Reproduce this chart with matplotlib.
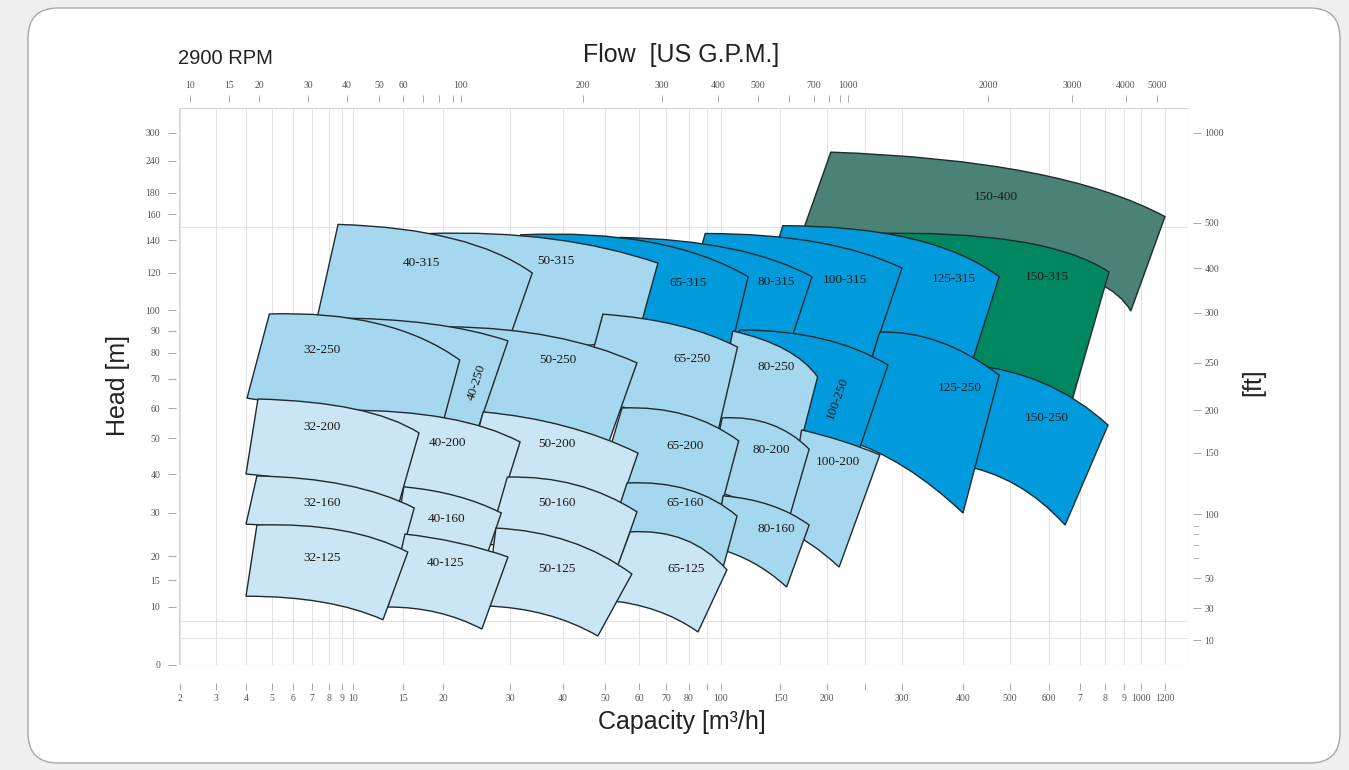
import numpy as np
import matplotlib.pyplot as plt
from matplotlib.path import Path
from matplotlib.patches import PathPatch, Rectangle, FancyBboxPatch

# pump fields, listed back to front (upper right first)
pumps = ['150-400', '150-315', '125-315', '100-315', '80-315', '65-315', '50-315', '40-315',
         '150-250', '125-250', '100-250', '80-250', '65-250', '50-250', '40-250', '32-250',
         '100-200', '80-200', '65-200', '50-200', '40-200', '32-200',
         '80-160', '65-160', '50-160', '40-160', '32-160',
         '65-125', '50-125', '40-125', '32-125']

# field outline, (capacity m3/h, head m): corners and curve control points
top_left = [(205, 259), (257, 145), (153, 151), (89, 145), (54.4, 142), (32, 144), (18.4, 145), (8.7, 152),
            (415, 75.4), (270, 89.5), (116, 90.5), (110, 90), (49.5, 98), (21, 92), (8.1, 96.2), (4.9, 98.1),
            (173, 52.7), (101, 56.7), (55, 60), (26, 58.7), (9.3, 59.3), (4.46, 63.1),
            (101.7, 34.4), (56.5, 37.7), (29.6, 39.2), (15.1, 36.7), (4.42, 39.5),
            (57.4, 25.6), (27.9, 26.5), (15.25, 25.1), (4.42, 27.2)]
top_ctrl = [(635, 242), (590, 148), (346, 151), (204, 145), (120, 140), (69.6, 149), (39.4, 148), (24, 149),
            (603, 72.7), (362, 90.5), (204, 90.5), (166, 83.6), (78.3, 95.2), (39.4, 91.4), (19.6, 96.2), (13.7, 100),
            (224, 49.4), (146, 57.7), (80.6, 61), (41.7, 56), (22.5, 59.3), (11.7, 62.1),
            (146, 33.3), (83.3, 38.5), (44, 39.7), (22.5, 35.4), (10.2, 39),
            (80.6, 26.5), (42.9, 25.6), (22.5, 23.7), (9.73, 27.9)]
top_right = [(1200, 158), (821, 120.6), (477, 118), (300, 123), (184, 118), (123, 118), (67, 126), (34.2, 120),
             (816, 54.3), (477, 71.5), (281, 75.4), (190, 70.8), (114, 82.7), (59.4, 76.2), (29.7, 85.5), (22.5, 77.3),
             (270, 45.3), (181, 46.9), (115, 49.2), (59.7, 45.8), (31.9, 48.9), (17, 51.7),
             (181, 27.2), (113.6, 29.3), (59.4, 30.3), (28.7, 30), (16.4, 31.3),
             (105, 17.1), (57.9, 16.25), (29.7, 19.8), (15.6, 20.9)]
bot_right = [(940, 99.5), (661, 57.7), (404, 68), (251, 71.5), (158, 81), (106, 77), (59.7, 88), (29.3, 81.4),
             (652, 27.2), (400, 30), (243, 47.2), (170, 46.7), (96.4, 49.4), (50.3, 46.7), (24.9, 51), (19.4, 49.4),
             (216, 17.7), (156, 26), (98.6, 29.5), (53.8, 30.3), (27.6, 27.2), (14.4, 30.8),
             (157, 13.7), (100, 16), (52.6, 15.4), (26.3, 19.2), (14.7, 19.2),
             (85, 5.7), (48.3, 5), (25.8, 6.2), (13, 7.8)]
bot_ctrl = [(760, 137), (479, 66), (297, 90.5), (171, 88), (99, 95), (57, 84), (39.4, 77), (18.4, 86),
            (526, 39.7), (305, 44.4), (171, 52), (137, 52.7), (71.7, 58.7), (39.4, 56), (17.1, 61), (10.7, 57.7),
            (182, 23.7), (133, 33.3), (76, 38.5), (41.7, 38.5), (22.5, 34.6), (8.85, 37.9),
            (129, 19.6), (76, 22.6), (41.7, 23.7), (21, 22.6), (8.85, 26.5),
            (67.8, 10.4), (37.5, 9.8), (19.6, 10), (8.08, 12)]
bot_left = [(171, 140), (230, 81), (133, 105), (80.5, 111), (49, 105), (28.5, 95), (17.1, 90.5), (6.95, 83.6),
            (395, 42.5), (226, 49.4), (99, 59.3), (95.7, 54.3), (44, 62.8), (22.5, 56), (6.9, 62.8), (4.04, 63.4),
            (155, 26), (90, 35.9), (48.3, 35.9), (23.3, 38.5), (13.7, 35.9), (4, 40),
            (95.7, 21.9), (50, 21.4), (26.7, 22.6), (14.2, 23.7), (4, 27.4),
            (50, 11.3), (26.4, 10.2), (13.5, 10), (4, 12)]
label_at = [(470, 176), (595, 118), (385, 117), (224, 116), (147, 115), (79.6, 114.6), (38.7, 127), (17.25, 126),
            (595, 56.7), (395, 67), (214, 63.4), (146.6, 74.6), (81.7, 77.7), (39, 77.3), (25.1, 69), (7.6, 81.4),
            (214, 43.3), (143, 46.7), (78.3, 47.8), (38.9, 48.3), (20.6, 48.6), (7.6, 53.7),
            (146.6, 26.3), (78.3, 32.6), (38.9, 32.6), (20.6, 28.6), (7.6, 32.6),
            (78.7, 17.3), (38.9, 17.3), (20.3, 18.5), (7.6, 19.6)]
shade = ['slate', 'green', 'blue', 'blue', 'blue', 'blue', 'mid', 'mid',
         'blue', 'blue', 'blue', 'mid', 'mid', 'mid', 'mid', 'mid',
         'mid', 'mid', 'mid', 'light', 'light', 'light',
         'mid', 'mid', 'light', 'light', 'light',
         'light', 'light', 'light', 'light']
label_rot = [0] * 31
label_rot[pumps.index('100-250')] = 70
label_rot[pumps.index('40-250')] = 72

colors = {'slate': '#4a8373', 'green': '#00875f', 'blue': '#009bdc',
          'mid': '#a5d8ef', 'light': '#cae6f5'}

# axis calibration of the printed chart (value -> pixel on the sheet)
q_ref = [1.0, 2, 3, 4, 5, 6, 7, 8, 9, 10, 15, 20, 30, 40, 50, 60, 70, 80, 90, 100,
         150, 200, 250, 300, 400, 500, 600, 700, 800, 900, 1000, 1200, 3000]
q_px = [100, 180, 216, 246, 272, 293, 312, 329, 342, 353, 403, 443, 510, 563, 605, 639, 666, 689, 707, 721,
        780, 827, 865, 902, 963, 1010, 1049, 1080, 1105, 1124, 1141, 1165, 1300]
gpm_ref = [5, 10, 15, 20, 30, 40, 50, 60, 70, 80, 90, 100, 200, 300, 400, 500, 600, 700, 800, 900,
           1000, 2000, 3000, 4000, 5000, 10000]
gpm_px = [140, 190, 229, 259, 308, 347, 379, 403, 423, 439, 453, 461, 583, 662, 718, 758, 789, 814, 829, 840,
          848, 988, 1072, 1126, 1157, 1300]
h_ref = [0, 10, 15, 20, 30, 40, 50, 60, 70, 80, 90, 100, 120, 140, 160, 180, 240, 300, 400]
h_px = [665, 607, 580, 556, 513, 474, 438, 408, 379, 353, 331, 310, 273, 240, 214, 193, 161, 133, 80]
ft_ref = [0, 10, 30, 50, 100, 150, 200, 250, 300, 400, 500, 1000, 2000]
ft_px = [670, 640, 608, 578, 514, 453, 410, 363, 313, 268, 223, 133, 50]

q_ticks = [2, 3, 4, 5, 6, 7, 8, 9, 10, 15, 20, 30, 40, 50, 60, 70, 80, 90, 100,
           150, 200, 250, 300, 400, 500, 600, 700, 800, 900, 1000, 1200]
q_labels = ['2', '3', '4', '5', '6', '7', '8', '9', '10', '15', '20', '30', '40', '50', '60', '70', '80', '', '100',
            '150', '200', '', '300', '400', '500', '600', '7', '8', '9', '1000', '1200']
gpm_ticks = [10, 15, 20, 30, 40, 50, 60, 70, 80, 90, 100, 200, 300, 400, 500, 600, 700, 800, 900,
             1000, 2000, 3000, 4000, 5000]
gpm_labels = ['10', '15', '20', '30', '40', '50', '60', '', '', '', '100', '200', '300', '400', '500', '',
              '700', '', '', '1000', '2000', '3000', '4000', '5000']
h_ticks = [0, 10, 15, 20, 30, 40, 50, 60, 70, 80, 90, 100, 120, 140, 160, 180, 240, 300]
h_grid = [4.7, 7.6, 10, 15, 20, 30, 40, 50, 60, 70, 80, 90, 100, 120, 140, 150, 160, 180, 240]
ft_ticks = [10, 30, 50, 100, 150, 200, 250, 300, 400, 500, 1000]
ft_small = [66, 76, 84, 91]


def make_scale(ref, px, flip=False):
    ref = np.asarray(ref, float)
    px = np.asarray(px, float)
    if flip:
        px = -px
    fwd = lambda v: np.interp(v, ref, px)
    inv = lambda p: np.interp(p, px, ref)
    return fwd, inv


W, H = 1349, 770
fig = plt.figure(figsize=(W / 100, H / 100), dpi=100, facecolor='#efefef')
card = FancyBboxPatch((0.28, 0.07), 13.12, 7.55, boxstyle='round,pad=0,rounding_size=0.3',
                      transform=fig.dpi_scale_trans, fc='white', ec='#a8a8a8', lw=1.0, zorder=-10)
fig.add_artist(card)

x0, x1, y0, y1 = 179, 1188, 108, 665
ax = fig.add_axes([x0 / W, 1 - y1 / H, (x1 - x0) / W, (y1 - y0) / H])

qf, qi = make_scale(q_ref, q_px)
hf, hi = make_scale(h_ref, h_px, flip=True)
ax.set_xscale('function', functions=(qf, qi))
ax.set_yscale('function', functions=(hf, hi))
ax.set_xlim(qi(x0), qi(x1))
ax.set_ylim(hi(-y1), hi(-y0))

tick_style = dict(labelsize=7, labelcolor='#555555', labelfontfamily='Liberation Serif',
                  width=0.6, color='#999999')

ax.set_xticks(q_ticks)
ax.set_xticklabels(q_labels)
ax.set_yticks(h_ticks)
ax.set_yticklabels([str(t) for t in h_ticks])
ax.set_yticks(h_grid, minor=True)
ax.xaxis.set_minor_locator(plt.NullLocator())
ax.tick_params(axis='x', which='major', length=5, pad=3, **tick_style)
ax.tick_params(axis='y', which='major', length=6, pad=5.5, **tick_style)
ax.tick_params(axis='y', which='minor', length=0)
ax.grid(axis='x', which='major', color='#e2e2e2', lw=0.7)
ax.grid(axis='y', which='minor', color='#e2e2e2', lw=0.7)
ax.set_axisbelow(True)
for s in ['top', 'right']:
    ax.spines[s].set_visible(False)
ax.spines['bottom'].set_position(('outward', 13))
ax.spines['left'].set_position(('outward', 2))
ax.spines['bottom'].set_color('none')
ax.spines['left'].set_color('none')
ax.add_patch(Rectangle((0, 0), 1, 1, transform=ax.transAxes, fill=False, ec='#d4d4d4', lw=0.8, zorder=1))

# pump fields
for i, name in enumerate(pumps):
    verts = [top_left[i], top_ctrl[i], top_right[i], bot_right[i], bot_ctrl[i], bot_left[i], top_left[i]]
    codes = [Path.MOVETO, Path.CURVE3, Path.CURVE3, Path.LINETO, Path.CURVE3, Path.CURVE3, Path.CLOSEPOLY]
    patch = PathPatch(Path(verts, codes), fc=colors[shade[i]], ec='#1e2a30', lw=1.0, zorder=2 + i * 0.01)
    ax.add_patch(patch)
    ax.text(label_at[i][0], label_at[i][1], name, ha='center', va='center', rotation=label_rot[i],
            family='Liberation Serif', fontsize=9.5, color='#1a1a1a', zorder=5)

# top axis: US GPM
axt = ax.twiny()
gf, gi = make_scale(gpm_ref, gpm_px)
axt.set_xscale('function', functions=(gf, gi))
axt.set_xlim(gi(x0), gi(x1))
axt.set_xticks(gpm_ticks)
axt.set_xticklabels(gpm_labels)
axt.xaxis.set_minor_locator(plt.NullLocator())
axt.tick_params(axis='x', length=5, pad=4, **tick_style)
for s in ['bottom', 'left', 'right']:
    axt.spines[s].set_visible(False)
axt.spines['top'].set_position(('outward', 4.3))
axt.spines['top'].set_color('none')

# right axis: feet
axr = ax.twinx()
ff, fi = make_scale(ft_ref, ft_px, flip=True)
axr.set_yscale('function', functions=(ff, fi))
axr.set_ylim(fi(-y1), fi(-y0))
axr.set_yticks(ft_ticks)
axr.set_yticklabels([str(t) for t in ft_ticks])
axr.set_yticks(ft_small, minor=True)
axr.tick_params(axis='y', which='major', length=6, pad=2.2, **tick_style)
axr.tick_params(axis='y', which='minor', length=4, width=0.6, color='#aaaaaa')
for s in ['bottom', 'left', 'top']:
    axr.spines[s].set_visible(False)
axr.spines['right'].set_position(('outward', 3.6))
axr.spines['right'].set_color('none')

title_font = dict(family='Liberation Sans', color='#222222')
fig.text(178 / W, 1 - 58 / H, '2900 RPM', ha='left', va='center', fontsize=14.5, **title_font)
fig.text(583 / W, 1 - 55 / H, 'Flow  [US G.P.M.]', ha='left', va='center', fontsize=18, **title_font)
fig.text(598 / W, 1 - 722 / H, 'Capacity [m³/h]', ha='left', va='center', fontsize=18, **title_font)
fig.text(118 / W, 1 - 385 / H, 'Head [m]', ha='center', va='center', rotation=90, fontsize=18, **title_font)
fig.text(1253 / W, 1 - 382 / H, '[ft]', ha='center', va='center', rotation=90, fontsize=18, **title_font)

fig.savefig('out.png', dpi=100, facecolor=fig.get_facecolor())
